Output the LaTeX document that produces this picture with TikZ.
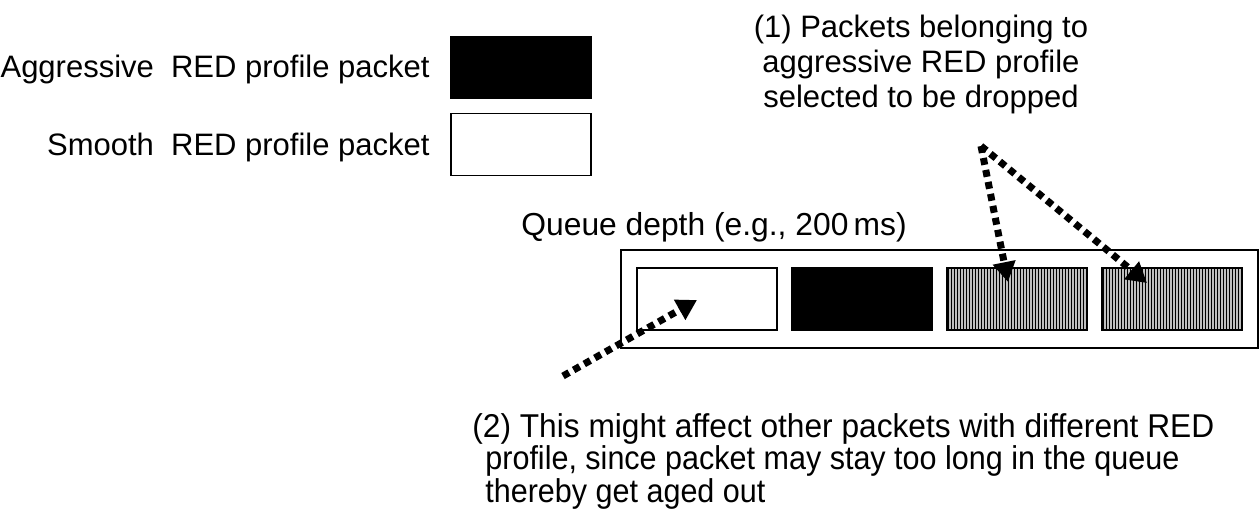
\documentclass[tikz,border=0pt]{standalone}
\usepackage{fontspec}
\setmainfont{Liberation Sans}
\newfontfamily\narrowfont[FakeStretch=0.925]{Liberation Sans}
\newfontfamily\halfnarrowfont[FakeStretch=0.96]{Liberation Sans}
\usepackage{tikz}
\usetikzlibrary{arrows.meta}
\usetikzlibrary{fit}

\tikzset{
  lbl/.style={inner sep=0pt,font=\fontsize{15.5}{17.5}\selectfont},
  pkt/.style={draw=black,line width=0.75pt,inner sep=0pt,minimum width=70pt,minimum height=31pt},
  hatched/.style={pkt,fill=gray!50,path picture={
      \foreach \i in {0,...,46} {\draw[line width=0.55pt,black]
        ([xshift=\i*1.5pt+0.8pt]path picture bounding box.south west) --
        ([xshift=\i*1.5pt+0.8pt]path picture bounding box.north west);}}},
  dotarrow/.style={line width=3.5pt,dash pattern=on 3.5pt off 2.6pt,
      -{Triangle[length=10pt,width=11pt]}}
}

\begin{document}
\begin{tikzpicture}[x=0.5pt,y=-0.5pt]
\useasboundingbox (0,0) rectangle (1260,516);

\node (AggTxt)[lbl,anchor=base east] at (430,77) {Aggressive\ \ RED profile packet};
\node (SmTxt)[lbl,anchor=base east] at (430,155) {Smooth\ \ RED profile packet};
\node (AggKey)[pkt,fill=black] at (521,67.5) {};
\node (SmKey)[pkt,fill=white] at (521,144.5) {};

\node (Drop)[lbl,align=center,anchor=base] at (921,107) {(1) Packets belonging to\\aggressive RED profile\\selected to be dropped};
\node (Depth)[lbl,anchor=base west,font=\fontsize{15.9}{17.5}\selectfont] at (521,235) {Queue depth (e.g., 200\,ms)};

\node (P1)[pkt,fill=white] at (707,299) {};
\node (P2)[pkt,fill=black] at (862,299) {};
\node (P3)[hatched] at (1017,299) {};
\node (P4)[hatched] at (1172,299) {};
\node (Queue)[draw=black,line width=1pt,inner xsep=7.5pt,inner ysep=8.5pt,fit={(P1) (P4)}]{};

\node (Aged)[inner sep=0pt,anchor=base west,align=left,font=\narrowfont\fontsize{16.5}{16.25}\selectfont] at (472,502)
  {{\halfnarrowfont (2) This might affect other packets with different RED}\\\hspace*{6.5pt}profile, since packet may stay too long in the queue\\\hspace*{6.5pt}thereby get aged out};

\coordinate (src) at (981,146);
\coordinate (hit3) at (1008,282);
\coordinate (hit4) at (1147,283);
\coordinate (tail) at (563,376);
\coordinate (hit1) at (697,300);
\draw[dotarrow] (src)--(hit3);
\draw[dotarrow] (src)--(hit4);
\draw[dotarrow] (tail)--(hit1);
\end{tikzpicture}
\end{document}
